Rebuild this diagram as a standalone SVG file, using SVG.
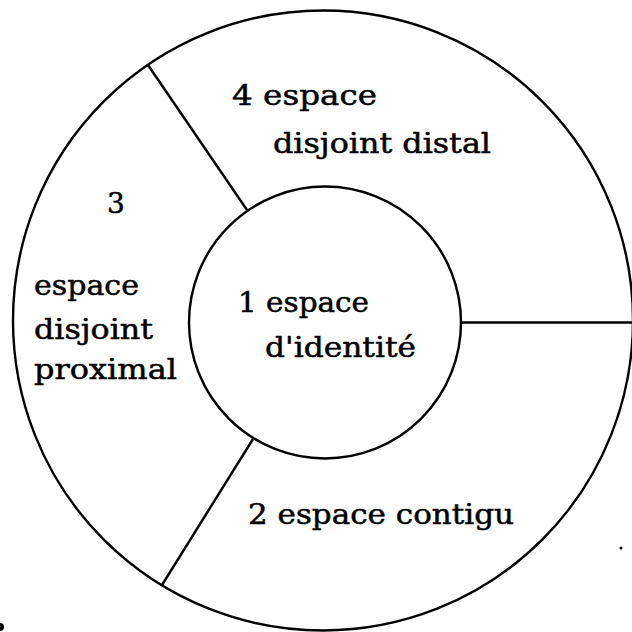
<svg xmlns="http://www.w3.org/2000/svg" width="632" height="632" viewBox="0 0 632 632">
<style>
.ring{fill:none;stroke:#000;stroke-width:2.4}
.sep{stroke:#000;stroke-width:2.4;fill:none}
.lbl{font-family:"DejaVu Serif","Liberation Serif",serif;font-size:28px;fill:#000;stroke:#000;stroke-width:0.5}
</style>
<rect width="632" height="632" fill="#fff"/>
<g id="outer">
<circle class="ring" cx="323" cy="320.5" r="310"/>
</g>
<g id="connectors">
<line class="sep" x1="148" y1="65" x2="247" y2="210"/>
<line class="sep" x1="253" y1="439" x2="162" y2="585"/>
<line class="sep" x1="461" y1="322.5" x2="634" y2="322.5"/>
</g>
<g id="node1">
<circle class="ring" cx="325" cy="322.5" r="136"/>
<text class="lbl" x="238" y="312" textLength="131" lengthAdjust="spacingAndGlyphs">1 espace</text>
<text class="lbl" x="265" y="357" textLength="151" lengthAdjust="spacingAndGlyphs">d'identité</text>
</g>
<g id="node2">
<text class="lbl" x="248" y="524" textLength="266" lengthAdjust="spacingAndGlyphs">2 espace contigu</text>
</g>
<g id="node3">
<text class="lbl" x="107" y="213">3</text>
<text class="lbl" x="34" y="295" textLength="105" lengthAdjust="spacingAndGlyphs">espace</text>
<text class="lbl" x="34" y="339" textLength="119" lengthAdjust="spacingAndGlyphs">disjoint</text>
<text class="lbl" x="34" y="379" textLength="143" lengthAdjust="spacingAndGlyphs">proximal</text>
</g>
<g id="node4">
<text class="lbl" x="232" y="105" textLength="145" lengthAdjust="spacingAndGlyphs">4  espace</text>
<text class="lbl" x="273" y="153" textLength="218" lengthAdjust="spacingAndGlyphs">disjoint distal</text>
</g>
<circle cx="621" cy="548" r="1.5" fill="#000"/>
<circle cx="0" cy="627" r="4" fill="#000"/>
</svg>
